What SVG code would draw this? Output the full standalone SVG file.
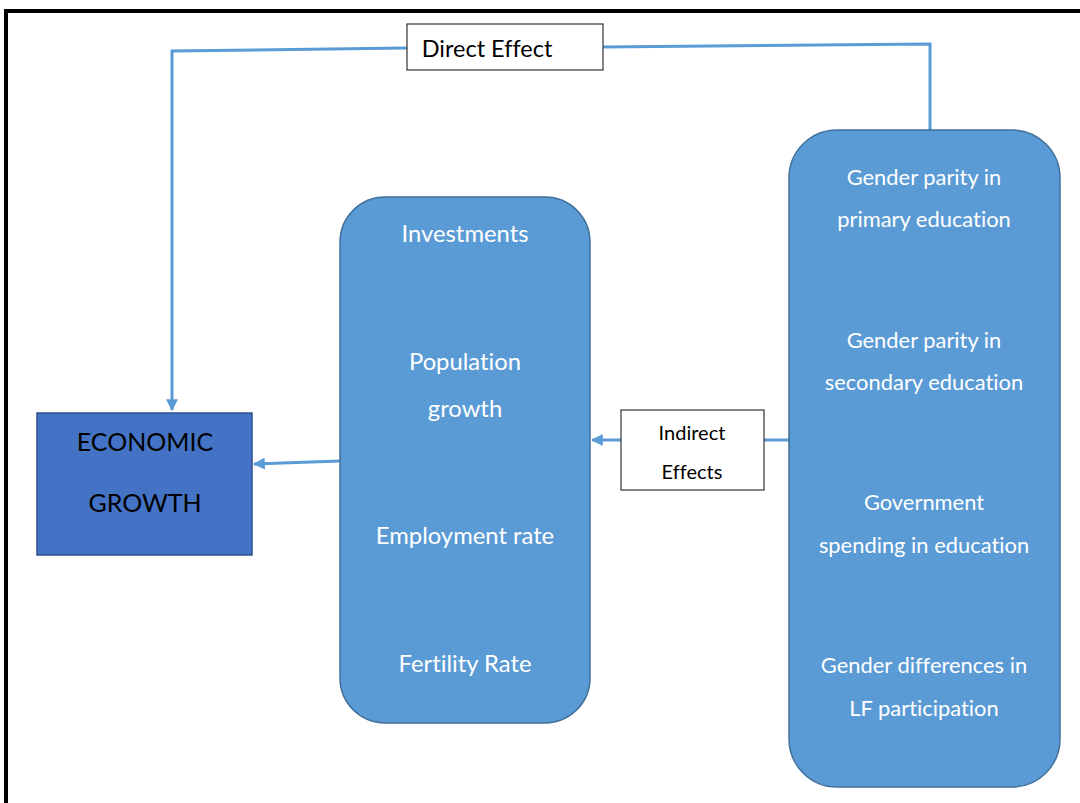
<svg xmlns="http://www.w3.org/2000/svg" width="1080" height="803" viewBox="0 0 1080 803">
<style>
.t{font-family:Lato,"Open Sans","Liberation Sans",sans-serif;text-anchor:middle;font-variant-ligatures:none}
.w{fill:#ffffff}
.m{font-size:23.8px}
.r{font-size:21.9px}
.b{fill:#000000}
.box{fill:#5B9BD5;stroke:#41719C;stroke-width:1.5}
.lab{fill:#ffffff;stroke:#333333;stroke-width:1.2}
.c{fill:none;stroke:#5B9BD5;stroke-width:3}
</style>
<defs>
<marker id="ah" viewBox="0 0 10 10" refX="9" refY="5" markerWidth="4" markerHeight="4" orient="auto">
<path d="M0,0 L10,5 L0,10 z" fill="#5B9BD5"/>
</marker>
</defs>
<rect x="0" y="0" width="1080" height="803" fill="#ffffff"/>
<path d="M6,803 V11 H1080" fill="none" stroke="#000000" stroke-width="4"/>
<g id="connectors">
<path class="c" d="M407,48 L172,51 V410" marker-end="url(#ah)"/>
<path class="c" d="M930,130 V44 L603,47"/>
<path class="c" d="M340,461 L254,464" marker-end="url(#ah)"/>
<path class="c" d="M789,440 H764"/>
<path class="c" d="M621,440 H592" marker-end="url(#ah)"/>
</g>
<g id="direct-effect">
<rect class="lab" x="407" y="24" width="196" height="46"/>
<text class="t b" x="487" y="57" font-size="23.5">Direct Effect</text>
</g>
<g id="indirect-effects">
<rect class="lab" x="621" y="410" width="143" height="80"/>
<text class="t b" x="692" y="440" font-size="20">Indirect</text>
<text class="t b" x="692" y="479" font-size="20">Effects</text>
</g>
<g id="economic-growth">
<rect x="37" y="413" width="215" height="142" fill="#4472C4" stroke="#2F528F" stroke-width="1.5"/>
<text class="t b" x="145" y="451" font-size="25">ECONOMIC</text>
<text class="t b" x="145" y="512" font-size="25">GROWTH</text>
</g>
<g id="mediators">
<rect class="box" x="340" y="197" width="250" height="526" rx="45" ry="45"/>
<text class="t w m" x="465" y="242">Investments</text>
<text class="t w m" x="465" y="370">Population</text>
<text class="t w m" x="465" y="417">growth</text>
<text class="t w m" x="465" y="544">Employment rate</text>
<text class="t w m" x="465" y="672">Fertility Rate</text>
</g>
<g id="gender-factors">
<rect class="box" x="789" y="130" width="271" height="657" rx="48" ry="48"/>
<text class="t w r" x="924" y="185">Gender parity in</text>
<text class="t w r" x="924" y="227">primary education</text>
<text class="t w r" x="924" y="348">Gender parity in</text>
<text class="t w r" x="924" y="390">secondary education</text>
<text class="t w r" x="924" y="510">Government</text>
<text class="t w r" x="924" y="553">spending in education</text>
<text class="t w r" x="924" y="673">Gender differences in</text>
<text class="t w r" x="924" y="716">LF participation</text>
</g>
</svg>
